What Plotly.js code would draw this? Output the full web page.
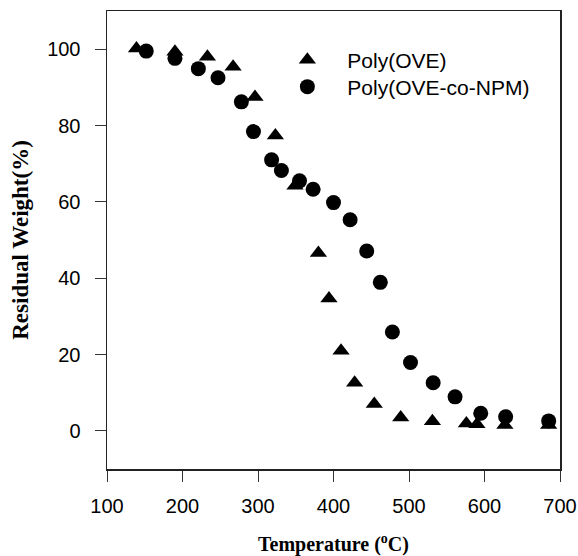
<!DOCTYPE html>
<html>
<head>
<meta charset="utf-8">
<script src="https://cdn.plot.ly/plotly-3.0.1.min.js"></script>
<style>html,body{margin:0;padding:0;background:#fff;}#chart{width:578px;height:556px;}</style>
</head>
<body>
<div id="chart"></div>
<script>
// Poly(OVE) — triangles
const oveTemp = [139, 190, 233, 267, 296, 323, 349, 380, 394, 410, 428, 454, 489, 531, 576, 590, 627, 685];
const oveWeight = [100.2, 99.3, 98, 95.4, 87.5, 77.4, 64.2, 46.6, 34.7, 21, 12.6, 7, 3.5, 2.5, 1.9, 1.7, 1.5, 1.5];
// Poly(OVE-co-NPM) — circles
const npmTemp = [152, 190, 221, 247, 278, 294, 318, 331, 355, 373, 400, 422, 444, 462, 478, 502, 532, 561, 595, 628, 685];
const npmWeight = [99.5, 97.6, 94.9, 92.5, 86.2, 78.4, 71, 68.2, 65.5, 63.3, 59.8, 55.3, 47.1, 38.9, 25.9, 17.9, 12.6, 8.9, 4.6, 3.7, 2.6];
const seriesNames = ["Poly(OVE)", "Poly(OVE-co-NPM)"];
const xTicks = [100, 200, 300, 400, 500, 600, 700];
const yTicks = [0, 20, 40, 60, 80, 100];

const traces = [
  {x: oveTemp, y: oveWeight, name: seriesNames[0], type: "scatter", mode: "markers", legend: "legend",
   marker: {symbol: "triangle-up", size: 15, color: "#000"}},
  {x: npmTemp, y: npmWeight, name: seriesNames[1], type: "scatter", mode: "markers", legend: "legend2",
   marker: {symbol: "circle", size: 15, color: "#000"}}
];

const axisCommon = {
  showgrid: false, zeroline: false, showline: true, mirror: true,
  linecolor: "#222", linewidth: 1.5, ticks: "outside", ticklen: 11,
  tickwidth: 1, tickcolor: "#333",
  tickfont: {family: "Liberation Sans, Arial, sans-serif", size: 20, color: "#000"}
};

const legendCommon = {
  xanchor: "left", yanchor: "top", bgcolor: "rgba(0,0,0,0)", borderwidth: 0,
  itemwidth: 70,
  font: {family: "Liberation Sans, Arial, sans-serif", size: 21, color: "#000"}
};

const layout = {
  width: 578, height: 556,
  margin: {l: 107, r: 18, t: 11, b: 87},
  paper_bgcolor: "#fff", plot_bgcolor: "#fff",
  showlegend: true,
  legend: Object.assign({}, legendCommon, {x: 0.354, y: 0.9376}),
  legend2: Object.assign({}, legendCommon, {x: 0.354, y: 0.8788}),
  xaxis: Object.assign({}, axisCommon, {
    range: [100, 700], tickvals: xTicks, ticktext: xTicks.map(String),
    ticklabelstandoff: 7,
    title: {text: "Temperature (<sup>o</sup>C)", standoff: 22,
      font: {family: "Liberation Serif, Times New Roman, serif", size: 20, color: "#000", weight: "bold"}}
  }),
  yaxis: Object.assign({}, axisCommon, {
    range: [-10, 110], tickvals: yTicks, ticktext: yTicks.map(String),
    ticklabelstandoff: 10,
    title: {text: "Residual Weight(%)", standoff: 12,
      font: {family: "Liberation Serif, Times New Roman, serif", size: 23, color: "#000", weight: "bold"}}
  })
};

Plotly.newPlot("chart", traces, layout, {displayModeBar: false, staticPlot: true});
</script>
</body>
</html>
